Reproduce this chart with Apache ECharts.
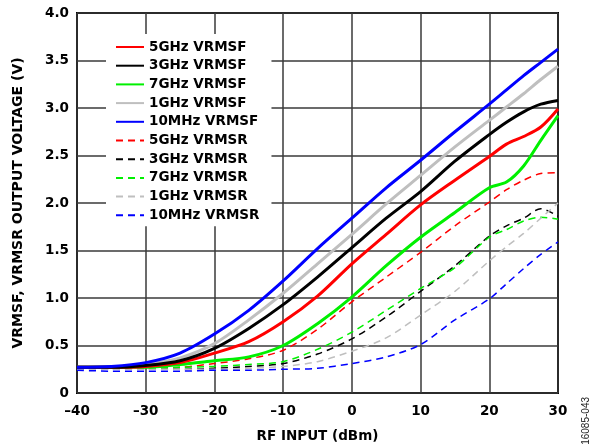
<!DOCTYPE html>
<html>
<head>
<meta charset="utf-8">
<script src="https://cdn.jsdelivr.net/npm/echarts@6/dist/echarts.min.js"></script>
<style>
  html, body { margin: 0; padding: 0; background: #fff; }
  #chart { width: 592px; height: 448px; }
</style>
</head>
<body>
<div id="chart"></div>
<script>
// RF input (dBm), shared by all curves
var rfInput = [-40, -35, -30, -25, -20, -15, -10, -5, 0, 5, 10, 15, 20, 22.5, 25, 27.5, 30];

// VRMSF (solid)
var f5GHz   = [0.27, 0.27, 0.28, 0.32, 0.42, 0.54, 0.75, 1.02, 1.36, 1.67, 1.98, 2.24, 2.49, 2.62, 2.70, 2.80, 2.99];
var f3GHz   = [0.27, 0.27, 0.29, 0.34, 0.47, 0.68, 0.93, 1.22, 1.53, 1.84, 2.12, 2.44, 2.72, 2.85, 2.96, 3.04, 3.08];
var f7GHz   = [0.27, 0.27, 0.27, 0.30, 0.34, 0.38, 0.50, 0.73, 1.01, 1.34, 1.64, 1.90, 2.16, 2.22, 2.39, 2.66, 2.92];
var f1GHz   = [0.27, 0.27, 0.30, 0.37, 0.52, 0.77, 1.05, 1.36, 1.67, 1.99, 2.29, 2.59, 2.87, 3.01, 3.15, 3.30, 3.44];
var f10MHz  = [0.27, 0.28, 0.32, 0.42, 0.62, 0.87, 1.18, 1.52, 1.84, 2.16, 2.45, 2.75, 3.04, 3.19, 3.34, 3.48, 3.62];

// VRMSR (dashed)
var r5GHz   = [0.26, 0.26, 0.26, 0.27, 0.31, 0.36, 0.45, 0.67, 0.96, 1.22, 1.48, 1.76, 2.01, 2.14, 2.24, 2.31, 2.32];
var r3GHz   = [0.25, 0.25, 0.25, 0.25, 0.26, 0.28, 0.31, 0.41, 0.57, 0.80, 1.07, 1.34, 1.65, 1.76, 1.84, 1.94, 1.86];
var r7GHz   = [0.26, 0.26, 0.26, 0.27, 0.28, 0.30, 0.33, 0.46, 0.64, 0.87, 1.10, 1.32, 1.64, 1.72, 1.81, 1.85, 1.83];
var r1GHz   = [0.25, 0.25, 0.25, 0.25, 0.25, 0.26, 0.28, 0.33, 0.44, 0.58, 0.82, 1.07, 1.39, 1.54, 1.68, 1.84, 2.00];
var r10MHz  = [0.24, 0.23, 0.23, 0.23, 0.24, 0.24, 0.25, 0.26, 0.31, 0.38, 0.51, 0.77, 0.99, 1.15, 1.31, 1.46, 1.59];

var xTicks = [-40, -30, -20, -10, 0, 10, 20, 30];
var yTicks = [0, 0.5, 1.0, 1.5, 2.0, 2.5, 3.0, 3.5, 4.0];

var FONT = 'DejaVu Sans, Arial, sans-serif';

function pairs(ys) {
  return rfInput.map(function (x, i) { return [x, ys[i]]; });
}

function mk(name, ys, color, dashed) {
  return {
    name: name,
    type: 'line',
    data: pairs(ys),
    symbol: 'none',
    smooth: 0.3,
    lineStyle: {
      color: color,
      width: dashed ? 1.5 : 3,
      type: dashed ? [7, 5] : 'solid'
    },
    itemStyle: { color: color }
  };
}

var chart = echarts.init(document.getElementById('chart'), null, { renderer: 'canvas' });

var option = {
  animation: false,
  backgroundColor: '#fff',
  textStyle: { fontFamily: FONT },
  grid: {
    left: 77, right: 34, top: 13, bottom: 51,
    show: true,
    borderColor: '#000',
    borderWidth: 2,
    backgroundColor: 'transparent'
  },
  legend: {
    orient: 'vertical',
    left: 106,
    top: 34,
    padding: [6, 12, 4, 9],
    backgroundColor: '#fff',
    itemWidth: 28,
    itemHeight: 14,
    itemGap: 4.7,
    itemStyle: { opacity: 0 },
    textStyle: { fontFamily: FONT, fontSize: 13.5, fontWeight: 'bold', color: '#000' },
    data: ['5GHz VRMSF', '3GHz VRMSF', '7GHz VRMSF', '1GHz VRMSF', '10MHz VRMSF',
           '5GHz VRMSR', '3GHz VRMSR', '7GHz VRMSR', '1GHz VRMSR', '10MHz VRMSR']
  },
  xAxis: {
    type: 'value',
    min: -40, max: 30, interval: 10,
    name: 'RF INPUT (dBm)',
    nameLocation: 'middle',
    nameGap: 36,
    nameTextStyle: { fontFamily: FONT, fontSize: 13.5, fontWeight: 'bold', color: '#000' },
    axisLine: { show: false },
    axisTick: { show: false },
    axisLabel: {
      margin: 11,
      fontFamily: FONT, fontSize: 13.5, fontWeight: 'bold', color: '#000',
      formatter: function (v) {
        if (xTicks.indexOf(v) < 0) return '';
        return v < 0 ? '\u2013' + Math.abs(v) : String(v);
      }
    },
    splitLine: { show: true, lineStyle: { color: '#3a3a3a', width: 1.5 } }
  },
  yAxis: {
    type: 'value',
    min: 0, max: 4, interval: 0.5,
    name: 'VRMSF, VRMSR OUTPUT VOLTAGE (V)',
    nameLocation: 'middle',
    nameGap: 52,
    nameTextStyle: { fontFamily: FONT, fontSize: 14, fontWeight: 'bold', color: '#000' },
    axisLine: { show: false },
    axisTick: { show: false },
    axisLabel: {
      margin: 8,
      fontFamily: FONT, fontSize: 13.5, fontWeight: 'bold', color: '#000',
      formatter: function (v) {
        if (v === 0) return '0';
        return v.toFixed(1);
      }
    },
    splitLine: { show: true, lineStyle: { color: '#3a3a3a', width: 1.5 } }
  },
  graphic: [{
    type: 'text',
    left: 581,
    top: 397,
    rotation: Math.PI / 2,
    style: { text: '16085-043', fontFamily: 'Liberation Sans, Arial, sans-serif', fontSize: 10, fill: '#222' }
  }],
  series: [
    mk('5GHz VRMSR', r5GHz, '#ff0000', true),
    mk('3GHz VRMSR', r3GHz, '#000000', true),
    mk('7GHz VRMSR', r7GHz, '#00f000', true),
    mk('1GHz VRMSR', r1GHz, '#bfbfbf', true),
    mk('10MHz VRMSR', r10MHz, '#0000ff', true),
    mk('1GHz VRMSF', f1GHz, '#bfbfbf', false),
    mk('7GHz VRMSF', f7GHz, '#00f000', false),
    mk('5GHz VRMSF', f5GHz, '#ff0000', false),
    mk('3GHz VRMSF', f3GHz, '#000000', false),
    mk('10MHz VRMSF', f10MHz, '#0000ff', false)
  ]
};

chart.setOption(option);
</script>
</body>
</html>
